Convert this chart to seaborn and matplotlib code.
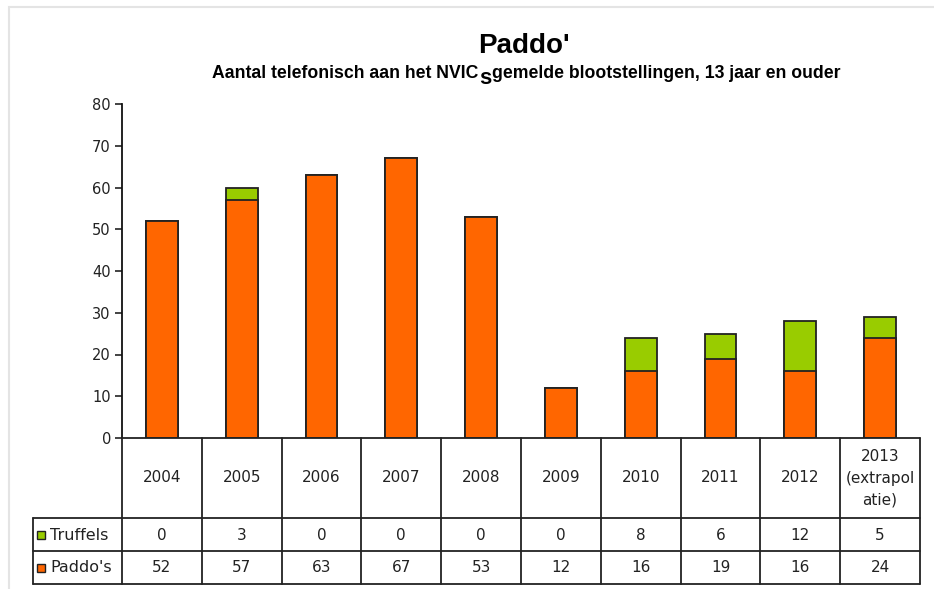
import matplotlib
matplotlib.use("Agg")
import matplotlib.pyplot as plt
import seaborn as sns
import pandas as pd
from matplotlib.patches import Rectangle
from matplotlib.lines import Line2D

# ---- data ----
categories = ["2004", "2005", "2006", "2007", "2008", "2009", "2010", "2011", "2012",
              "2013\n(extrapol\natie)"]
truffels = [0, 3, 0, 0, 0, 0, 8, 6, 12, 5]
paddos = [52, 57, 63, 67, 53, 12, 16, 19, 16, 24]
series_names = ["Truffels", "Paddo's"]
yticks = [0, 10, 20, 30, 40, 50, 60, 70, 80]
title = "Paddo'"
subtitle_left = "Aantal telefonisch aan het NVIC"
subtitle_right = "gemelde blootstellingen, 13 jaar en ouder"

ORANGE = "#FF6600"
GREEN = "#99CC00"
EDGE = "#222222"

sns.set_theme(style="white")
plt.rcParams['font.family'] = ['DejaVu Sans']

W, H = 934, 589
fig = plt.figure(figsize=(W / 100, H / 100), dpi=100)
fig.patch.set_facecolor("white")


def fx(px):
    return px / W


def fy(py):
    return 1 - py / H


df = pd.DataFrame({"cat": categories, "truffels": truffels, "paddos": paddos})
df["total"] = df["truffels"] + df["paddos"]

ax = fig.add_axes([fx(122), fy(438), fx(920) - fx(122), fy(104) - fy(438)])
sns.barplot(data=df, x="cat", y="total", color=GREEN, saturation=1, width=0.4,
            edgecolor=EDGE, linewidth=1.3, ax=ax, order=categories)
sns.barplot(data=df, x="cat", y="paddos", color=ORANGE, saturation=1, width=0.4,
            edgecolor=EDGE, linewidth=1.3, ax=ax, order=categories)
ax.set_xlim(-0.5, len(categories) - 0.5)
ax.set_ylim(0, 80)
ax.set_yticks(yticks)
ax.set_xticks([])
ax.set_xlabel("")
ax.set_ylabel("")
for s in ["top", "right", "bottom"]:
    ax.spines[s].set_visible(False)
ax.spines["left"].set_color("#111111")
ax.spines["left"].set_linewidth(1.3)
ax.tick_params(axis="y", direction="out", length=5, width=1.1, color="#111111",
               labelsize=10.5, labelcolor="#222222", pad=3, left=True)

# ---- data table below ----
tab = fig.add_axes([fx(122), fy(584), fx(920) - fx(122), fy(438) - fy(584)])
tab.set_xlim(-0.5, len(categories) - 0.5)
tab.set_ylim(146, 0)
tab.axis("off")
unit = (920 - 122) / len(categories)
leg_left = -0.5 - (122 - 33) / unit
lc = "#222222"
lw = 1.3
n = len(categories)
tab.add_line(Line2D([-0.5, n - 0.5], [0, 0], color=lc, lw=lw, clip_on=False))
for yy in [80, 113, 146]:
    tab.add_line(Line2D([leg_left, n - 0.5], [yy, yy], color=lc, lw=lw, clip_on=False))
for k in range(n + 1):
    tab.add_line(Line2D([-0.5 + k, -0.5 + k], [0, 146], color=lc, lw=lw, clip_on=False))
tab.add_line(Line2D([leg_left, leg_left], [80, 146], color=lc, lw=lw, clip_on=False))

fs = 11
for i, c in enumerate(categories):
    tab.text(i, 40, c, ha="center", va="center", fontsize=fs, color="#222222",
             linespacing=1.55)
    tab.text(i, 97, str(truffels[i]), ha="center", va="center", fontsize=fs, color="#222222")
    tab.text(i, 130, str(paddos[i]), ha="center", va="center", fontsize=fs, color="#222222")

sq_w = 8 / unit
for name, col, yc in [(series_names[0], GREEN, 97), (series_names[1], ORANGE, 130)]:
    x0 = -0.5 - (122 - 37) / unit
    tab.add_patch(Rectangle((x0, yc - 4), sq_w, 8, facecolor=col, edgecolor=EDGE,
                            lw=1.0, clip_on=False))
    tab.text(-0.5 - (122 - 50) / unit, yc, name, ha="left", va="center",
             fontsize=11.5, color="#222222")

# ---- titles ----
bold_fam = ["Liberation Sans", "DejaVu Sans"]
fig.text(fx(524), fy(46), title, ha="center", va="center", fontsize=20,
         fontweight="bold", family=bold_fam, color="black")
fig.text(fx(478), fy(74), subtitle_left, ha="right", va="center", fontsize=12.7,
         fontweight="bold", family=bold_fam, color="black")
fig.text(fx(492), fy(74), subtitle_right, ha="left", va="center", fontsize=12.7,
         fontweight="bold", family=bold_fam, color="black")
fig.text(fx(485), fy(79), "s", ha="center", va="center", fontsize=16,
         fontweight="bold", family=bold_fam, color="black")

# faint frame
fig.add_artist(Rectangle((fx(9), -0.01), 1.02 - fx(9), fy(7) + 0.01, fill=False,
                         edgecolor="#e4e4e4", lw=1.5, transform=fig.transFigure))

fig.savefig("out.png", dpi=100)
